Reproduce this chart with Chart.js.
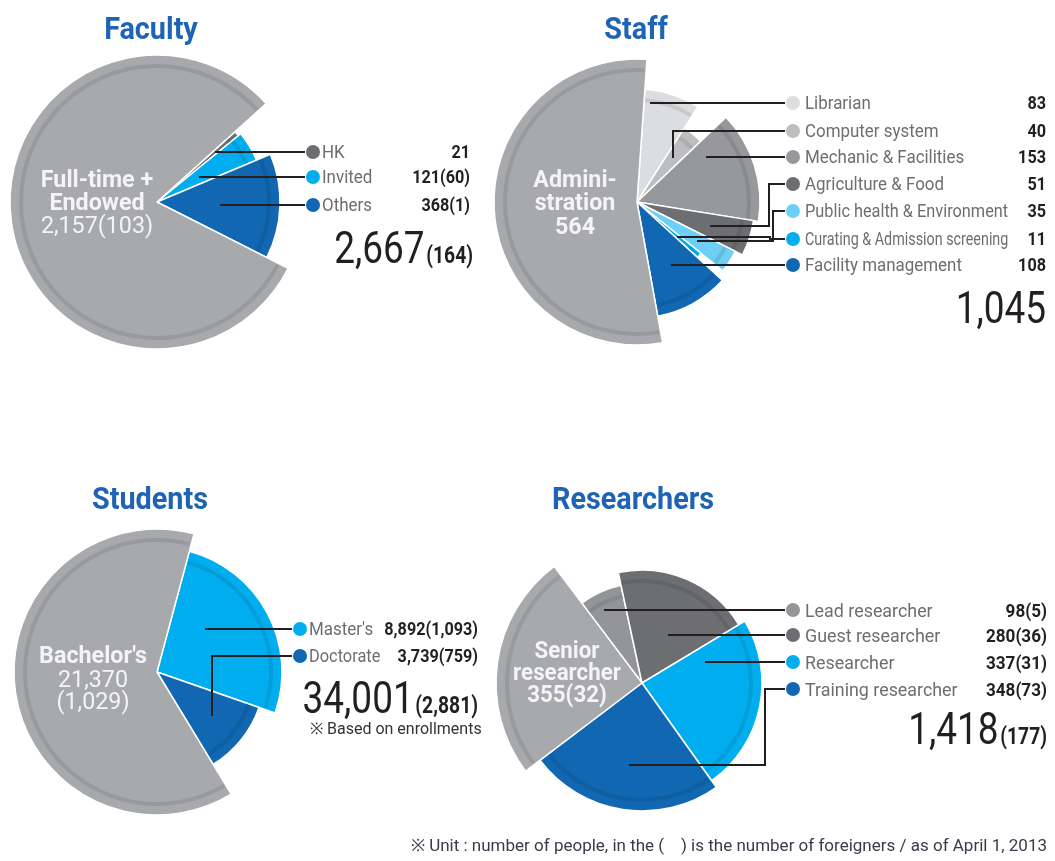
<!DOCTYPE html>
<html>
<head>
<meta charset="utf-8">
<script src="https://cdn.jsdelivr.net/npm/chart.js@4.4.0/dist/chart.umd.min.js"></script>
<style>
  body { margin: 0; background: #fff; }
  #page { position: relative; width: 1055px; height: 861px; overflow: hidden;
    font-family: "Roboto", "Liberation Sans", sans-serif; }
  canvas { position: absolute; left: 0; top: 0; }
  .t { position: absolute; white-space: pre; line-height: 1; z-index: 5; }
  .dot { position: absolute; width: 14px; height: 14px; border-radius: 50%; z-index: 5; transform: translate(-50%, -50%); }
</style>
</head>
<body>
<div id="page">
  <canvas id="faculty" width="1055" height="861"></canvas>
  <canvas id="staff" width="1055" height="861"></canvas>
  <canvas id="students" width="1055" height="861"></canvas>
  <canvas id="researchers" width="1055" height="861"></canvas>
</div>
<script>
var W = 1055, H = 861;

// Faculty
var facultyLabels = ['HK', 'Invited', 'Others', 'Full-time + Endowed'];
var facultyValues = [21, 121, 368, 2157];
var facultyForeign = [0, 60, 1, 103];

// Staff
var staffLabels = ['Librarian', 'Computer system', 'Mechanic & Facilities', 'Agriculture & Food',
  'Public health & Environment', 'Curating & Admission screening', 'Facility management', 'Administration'];
var staffValues = [83, 40, 153, 51, 35, 11, 108, 564];
var staffForeign = [0, 0, 0, 0, 0, 0, 0, 0];

// Students
var studentLabels = ["Master's", 'Doctorate', "Bachelor's"];
var studentValues = [8892, 3739, 21370];
var studentForeign = [1093, 759, 1029];

// Researchers
var researcherLabels = ['Lead researcher', 'Guest researcher', 'Researcher', 'Training researcher', 'Senior researcher'];
var researcherValues = [98, 280, 337, 348, 355];
var researcherForeign = [5, 36, 31, 73, 32];

var GRAY = '#a7a9ac', LBLUE = '#00aeef', DBLUE = '#1267b2', DGRAY = '#6d6e71';

function fmt(v, f) {
  return v.toLocaleString('en-US') + (f ? '(' + f.toLocaleString('en-US') + ')' : '');
}
function sum(a) { return a.reduce(function (s, v) { return s + v; }, 0); }

// darken a hex colour a little for the rim ring
function shade(hex, k) {
  var n = parseInt(hex.slice(1), 16);
  var r = Math.round(((n >> 16) & 255) * k), g = Math.round(((n >> 8) & 255) * k), b = Math.round((n & 255) * k);
  return 'rgb(' + r + ',' + g + ',' + b + ')';
}

var charts = [
  { id: 'faculty', title: 'Faculty', titleX: 151, titleY: 28,
    labels: facultyLabels, values: facultyValues, foreign: facultyForeign,
    colors: [DGRAY, LBLUE, DBLUE, GRAY], radii: [105, 108, 123, 147],
    cx: 157, cy: 202, rotation: 48,
    rows: [152, 177, 205], dotX: 313, labelX: 322, labelMax: 400, valueRight: 470, labelSize: 18, bend: [],
    inner: { x: 97, y: [179, 202, 225], bold: [true, true, false], size: 24,
      lines: ['Full-time +', 'Endowed', fmt(facultyValues[3], facultyForeign[3])] },
    total: { right: 473, y: 248 } },
  { id: 'staff', title: 'Staff', titleX: 636, titleY: 28,
    labels: staffLabels, values: staffValues, foreign: staffForeign,
    colors: ['#dcdddf', '#bcbec0', '#97989b', DGRAY, '#6dcff6', LBLUE, DBLUE, GRAY],
    radii: [113, 88, 123, 118, 110, 82, 116, 143],
    cx: 637, cy: 202, rotation: 4,
    rows: [103, 131, 157, 184, 211, 239, 265], dotX: 793, labelX: 805, labelMax: 1008, valueRight: 1046, labelSize: 18,
    bend: [null, null, null, 769, 773, 770, null],
    inner: { x: 575, y: [179, 202, 226], bold: [true, true, true], size: 24,
      lines: ['Admini-', 'stration', fmt(staffValues[7], staffForeign[7])] },
    total: { right: 1046, y: 308 } },
  { id: 'students', title: 'Students', titleX: 150, titleY: 498,
    labels: studentLabels, values: studentValues, foreign: studentForeign,
    colors: [LBLUE, DBLUE, GRAY], radii: [125, 108, 143],
    cx: 157, cy: 672, rotation: 15,
    rows: [629, 656], dotX: 300, labelX: 309, labelMax: 380, valueRight: 478, labelSize: 18, bend: [],
    inner: { x: 93, y: [655, 679, 701], bold: [true, false, false], size: 24,
      lines: ["Bachelor's", studentValues[2].toLocaleString('en-US'), '(' + studentForeign[2].toLocaleString('en-US') + ')'] },
    total: { right: 478, y: 698 } },
  { id: 'researchers', title: 'Researchers', titleX: 633, titleY: 498,
    labels: researcherLabels, values: researcherValues, foreign: researcherForeign,
    colors: ['#939598', DGRAY, LBLUE, DBLUE, GRAY], radii: [100, 113, 120, 128, 146],
    cx: 642, cy: 683, rotation: -37,
    rows: [610, 635, 662, 689], dotX: 793, labelX: 805, labelMax: 980, valueRight: 1047, labelSize: 19,
    bend: [null, null, null, 765],
    inner: { x: 567, y: [650, 672, 694], bold: [true, true, true], size: 23,
      lines: ['Senior', 'researcher', fmt(researcherValues[4], researcherForeign[4])] },
    total: { right: 1047, y: 729 } }
];

var page = document.getElementById('page');

// sx squeezes the text horizontally, the print uses a condensed face
function place(d, x, y, align, sx) {
  d.style.left = x + 'px';
  d.style.top = y + 'px';
  var tx = align === 'center' ? '-50%' : (align === 'right' ? '-100%' : '0');
  d.style.transform = 'translate(' + tx + ', -50%) scaleX(' + sx + ')';
  d.style.transformOrigin = (align === 'center' ? 'center' : align) + ' center';
}

function addText(text, x, y, align, sx, css) {
  var d = document.createElement('div');
  d.className = 't';
  d.textContent = text;
  place(d, x, y, align, sx);
  for (var k in css) d.style[k] = css[k];
  page.appendChild(d);
  return d;
}

function inside(arc, x, y, rMin, rMax) {
  var dx = x - arc.x, dy = y - arc.y, r = Math.sqrt(dx * dx + dy * dy);
  if (r < rMin || r > rMax) return false;
  var a = Math.atan2(dy, dx);
  while (a < arc.startAngle) a += 2 * Math.PI;
  return a <= arc.endAngle;
}

function slicePlugin(cfg) {
  return {
    id: 'slices',
    afterDatasetsUpdate: function (chart) {
      // each slice gets its own outer radius, like the printed chart
      chart.getDatasetMeta(0).data.forEach(function (arc, i) {
        arc.outerRadius = cfg.radii[i];
      });
    },
    afterDatasetsDraw: function (chart) {
      var ctx = chart.ctx;
      var arcs = chart.getDatasetMeta(0).data;
      arcs.forEach(function (arc, i) {
        ctx.save();
        ctx.beginPath();
        ctx.arc(arc.x, arc.y, arc.outerRadius - 11, arc.startAngle + 0.012, arc.endAngle - 0.012);
        ctx.strokeStyle = shade(cfg.colors[i], 0.91);
        ctx.lineWidth = 4;
        ctx.stroke();
        ctx.restore();
      });
      // leader lines to the legend
      ctx.save();
      ctx.strokeStyle = '#231f20';
      ctx.lineWidth = 2;
      ctx.lineJoin = 'miter';
      cfg.rows.forEach(function (rowY, i) {
        var arc = arcs[i], R = arc.outerRadius, endX = cfg.dotX - 8;
        var xs = [];
        for (var x = Math.round(arc.x - R); x <= arc.x + R; x++) {
          if (inside(arc, x, rowY, 0.25 * R, 0.9 * R)) xs.push(x);
        }
        var pts;
        var bx = cfg.bend[i];
        if (xs.length > 2 && !bx) {
          var sx = xs[0] + 0.4 * (xs[xs.length - 1] - xs[0]);
          pts = [[sx, rowY], [endX, rowY]];
        } else {
          var mid = (arc.startAngle + arc.endAngle) / 2;
          var px = arc.x + 0.65 * R * Math.cos(mid), py = arc.y + 0.65 * R * Math.sin(mid);
          pts = bx ? [[px, py], [bx, py], [bx, rowY], [endX, rowY]] : [[px, py], [px, rowY], [endX, rowY]];
        }
        ctx.beginPath();
        pts.forEach(function (p, k) {
          if (k === 0) ctx.moveTo(Math.round(p[0]), Math.round(p[1]));
          else ctx.lineTo(Math.round(p[0]), Math.round(p[1]));
        });
        ctx.stroke();
      });
      ctx.restore();
    }
  };
}

charts.forEach(function (cfg) {
  new Chart(document.getElementById(cfg.id), {
    type: 'pie',
    data: {
      labels: cfg.labels,
      datasets: [{
        data: cfg.values,
        backgroundColor: cfg.colors,
        borderColor: '#ffffff',
        borderWidth: 1.5
      }]
    },
    options: {
      responsive: false,
      animation: false,
      events: [],
      rotation: cfg.rotation,
      layout: {
        padding: { left: cfg.cx - 150, right: W - cfg.cx - 150, top: cfg.cy - 150, bottom: H - cfg.cy - 150 }
      },
      plugins: { legend: { display: false }, tooltip: { enabled: false } }
    },
    plugins: [slicePlugin(cfg)]
  });

  // title
  addText(cfg.title, cfg.titleX, cfg.titleY, 'center', 0.9,
    { fontSize: '32px', fontWeight: 'bold', color: '#1f64b4' });

  // big slice label
  cfg.inner.lines.forEach(function (line, k) {
    addText(line, cfg.inner.x, cfg.inner.y[k], 'center', 0.97, {
      fontSize: cfg.inner.size + 'px', fontWeight: cfg.inner.bold[k] ? 'bold' : 'normal', color: '#f4f4f5'
    });
  });

  // legend rows
  cfg.rows.forEach(function (rowY, i) {
    var dot = document.createElement('div');
    dot.className = 'dot';
    dot.style.left = cfg.dotX + 'px';
    dot.style.top = rowY + 'px';
    dot.style.background = cfg.colors[i];
    page.appendChild(dot);
    var lab = addText(cfg.labels[i], cfg.labelX, rowY, 'left', 0.94, { fontSize: cfg.labelSize + 'px', color: '#6d6e71' });
    var w = lab.offsetWidth;
    if (cfg.labelX + w * 0.94 > cfg.labelMax) {
      place(lab, cfg.labelX, rowY, 'left', (cfg.labelMax - cfg.labelX) / w);
    }
    addText(fmt(cfg.values[i], cfg.foreign[i]), cfg.valueRight, rowY, 'right', 0.9,
      { fontSize: cfg.labelSize + 'px', fontWeight: 'bold', color: '#231f20' });
  });

  // total
  var d = document.createElement('div');
  d.className = 't';
  place(d, cfg.total.right, cfg.total.y, 'right', 0.84);
  d.style.display = 'flex';
  d.style.alignItems = 'baseline';
  d.style.color = '#231f20';
  var big = document.createElement('span');
  big.textContent = sum(cfg.values).toLocaleString('en-US');
  big.style.fontSize = '44px';
  d.appendChild(big);
  var fs = sum(cfg.foreign);
  if (fs) {
    var small = document.createElement('span');
    small.textContent = '(' + fs.toLocaleString('en-US') + ')';
    small.style.fontSize = '23px';
    small.style.fontWeight = 'bold';
    small.style.marginLeft = '2px';
    d.appendChild(small);
  }
  page.appendChild(d);
});

addText('\u203b Based on enrollments', 310, 729, 'left', 1, { fontSize: '16px', color: '#333333' });
addText('\u203b Unit : number of people, in the (    ) is the number of foreigners / as of April 1, 2013',
  1047, 845, 'right', 1, { fontSize: '17px', color: '#3a3a4a' });
</script>
</body>
</html>
